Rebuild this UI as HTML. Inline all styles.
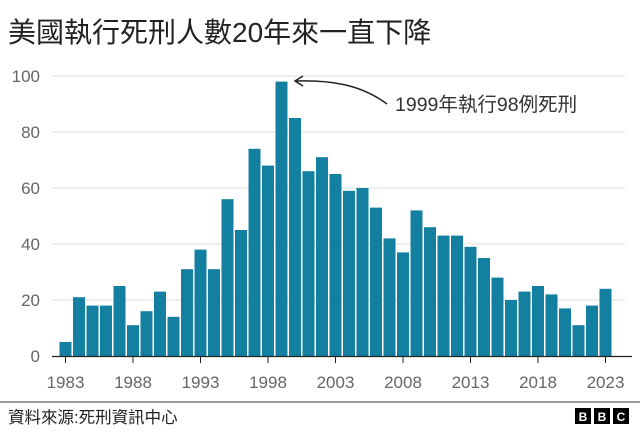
<!DOCTYPE html>
<html><head><meta charset="utf-8"><style>
body{margin:0;background:#fff;width:640px;height:433px;overflow:hidden;font-family:"Liberation Sans","Noto Sans CJK TC",sans-serif}
</style></head><body>
<svg width="640" height="433" style="position:absolute;left:0;top:0">
<text x="8" y="42" font-size="28" fill="#222" font-family="Liberation Sans, Noto Sans CJK TC, sans-serif">美國執行死刑人數20年來一直下降</text>
<g id="grid"></g><g id="bars"></g><g id="xaxis"></g>
<path d="M387,104 C360,84 330,80 296,81" fill="none" stroke="#222" stroke-width="1.5"/>
<path d="M303,76 L295,81 L303,86" fill="none" stroke="#222" stroke-width="1.5"/>
<text x="395" y="111" font-size="19.5" fill="#333" font-family="Liberation Sans, Noto Sans CJK TC, sans-serif">1999年執行98例死刑</text>
<line x1="0" y1="402" x2="640" y2="402" stroke="#333" stroke-width="1"/>
<text x="8" y="423" font-size="16.5" fill="#222" font-family="Liberation Sans, Noto Sans CJK TC, sans-serif">資料來源:死刑資訊中心</text>
<g>
<rect x="575" y="408" width="16" height="16" fill="#000"/><text x="583" y="421" font-size="12" font-weight="bold" fill="#fff" text-anchor="middle">B</text>
<rect x="594" y="408" width="16" height="16" fill="#000"/><text x="602" y="421" font-size="12" font-weight="bold" fill="#fff" text-anchor="middle">B</text>
<rect x="613" y="408" width="16" height="16" fill="#000"/><text x="621" y="421" font-size="12" font-weight="bold" fill="#fff" text-anchor="middle">C</text>
</g>
</svg>
<script>
const years=[1983,1984,1985,1986,1987,1988,1989,1990,1991,1992,1993,1994,1995,1996,1997,1998,1999,2000,2001,2002,2003,2004,2005,2006,2007,2008,2009,2010,2011,2012,2013,2014,2015,2016,2017,2018,2019,2020,2021,2022,2023];
const executions=[5,21,18,18,25,11,16,23,14,31,38,31,56,45,74,68,98,85,66,71,65,59,60,53,42,37,52,46,43,43,39,35,28,20,23,25,22,17,11,18,24];
const yTicks=[0,20,40,60,80,100];
const xTicks=[1983,1988,1993,1998,2003,2008,2013,2018,2023];
const NS="http://www.w3.org/2000/svg";
const y=v=>356-v*2.8;
const x=yr=>65.5+(yr-1983)*13.5;
function mk(t,a,p){const e=document.createElementNS(NS,t);for(const k in a)e.setAttribute(k,a[k]);p.appendChild(e);return e;}
const grid=document.getElementById('grid'),bars=document.getElementById('bars'),xa=document.getElementById('xaxis');
yTicks.forEach(v=>{
 if(v>0){const l=mk('line',{x1:52,x2:625,y1:y(v),y2:y(v),stroke:'#ddd','stroke-width':1},grid);
 
 }
 const t=mk('text',{x:40,y:y(v)+6,'font-size':17,fill:'#666','text-anchor':'end'},grid);t.textContent=v;
 
 
});
years.forEach((yr,i)=>{
 const r=mk('rect',{x:x(yr)-6,y:y(executions[i]),width:12,height:356-y(executions[i]),fill:'#1380A1'},bars);
 
 
});
const ax=mk('line',{x1:52,x2:632,y1:356.5,y2:356.5,stroke:'#222','stroke-width':1.2},xa);


xTicks.forEach(yr=>{
 const tk=mk('line',{x1:x(yr),x2:x(yr),y1:357,y2:363,stroke:'#222','stroke-width':1},xa);
 
 
 const t=mk('text',{x:x(yr),y:388,'font-size':17,fill:'#666','text-anchor':'middle'},xa);t.textContent=yr;
 
 
});
</script>
</body></html>
